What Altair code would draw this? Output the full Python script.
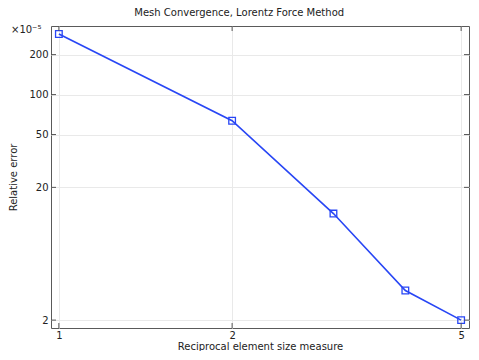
import altair as alt
import pandas as pd

# Data (relative error in units of 1e-5)
x_vals = [1, 2, 3, 4, 5]
y_vals = [286, 63.5, 12.7, 3.34, 2.0]
x_ticks = [1, 2, 5]
y_ticks = [2, 20, 50, 100, 200]

df = pd.DataFrame({"x": x_vals, "y": y_vals})
xt = pd.DataFrame({"t": x_ticks})
yt = pd.DataFrame({"t": y_ticks})

W, H = 418, 302
FONT = "DejaVu Sans"
BLUE = "#2846f5"
TICK = "#555555"

xscale = alt.Scale(type="log", domain=[0.969, 5.16], nice=False, zero=False)
yscale = alt.Scale(type="log", domain=[1.744, 328.6], nice=False, zero=False)

xaxis = alt.Axis(values=x_ticks, format="d", title="Reciprocal element size measure",
                 grid=True, gridColor="#e9e9e9", ticks=False, domain=False,
                 labelPadding=2, labelFontSize=10, titleFontSize=10, titleFont=FONT,
                 labelFont=FONT, labelColor="#222", titleColor="#222", titlePadding=1,
                 titleFontWeight="normal")
yaxis = alt.Axis(values=y_ticks, format="d", title="Relative error",
                 grid=True, gridColor="#e9e9e9", ticks=False, domain=False,
                 labelPadding=3, labelFontSize=10, titleFontSize=10, titleFont=FONT,
                 labelFont=FONT, labelColor="#222", titleColor="#222", titlePadding=10,
                 titleFontWeight="normal")

X = alt.X("x:Q", scale=xscale, axis=xaxis)
Y = alt.Y("y:Q", scale=yscale, axis=yaxis)

line = alt.Chart(df).mark_line(color=BLUE, strokeWidth=1.6).encode(x=X, y=Y)
pts = alt.Chart(df).mark_point(shape="square", size=44, color=BLUE, filled=False,
                               strokeWidth=1.3, opacity=1).encode(x=X, y=Y)

XT = alt.X("t:Q", scale=xscale, axis=xaxis)
YT = alt.Y("t:Q", scale=yscale, axis=yaxis)

bot = alt.Chart(xt).mark_rule(color=TICK, strokeWidth=1).encode(
    x=XT, y=alt.value(H), y2=alt.value(H - 5))
top = alt.Chart(xt).mark_rule(color=TICK, strokeWidth=1).encode(
    x=XT, y=alt.value(0), y2=alt.value(5))
lef = alt.Chart(yt).mark_rule(color=TICK, strokeWidth=1).encode(
    y=YT, x=alt.value(0), x2=alt.value(5))
rig = alt.Chart(yt).mark_rule(color=TICK, strokeWidth=1).encode(
    y=YT, x=alt.value(W), x2=alt.value(W - 5))

factor = alt.Chart(pd.DataFrame({"s": ["×10⁻⁵"]})).mark_text(
    font=FONT, fontSize=10, color="#222", align="left", baseline="middle").encode(
    text="s:N", x=alt.value(-40), y=alt.value(4))

chart = alt.layer(line, pts, bot, top, lef, rig, factor).properties(
    width=W, height=H, padding=0,
    title=alt.Title("Mesh Convergence, Lorentz Force Method", font=FONT, fontSize=10,
                    fontWeight="normal", color="#222", anchor="middle", frame="bounds",
                    offset=7),
).configure_view(stroke="#5a5a5a", strokeWidth=1)

chart.save("out.html", embed_options={"renderer": "svg", "actions": False})
